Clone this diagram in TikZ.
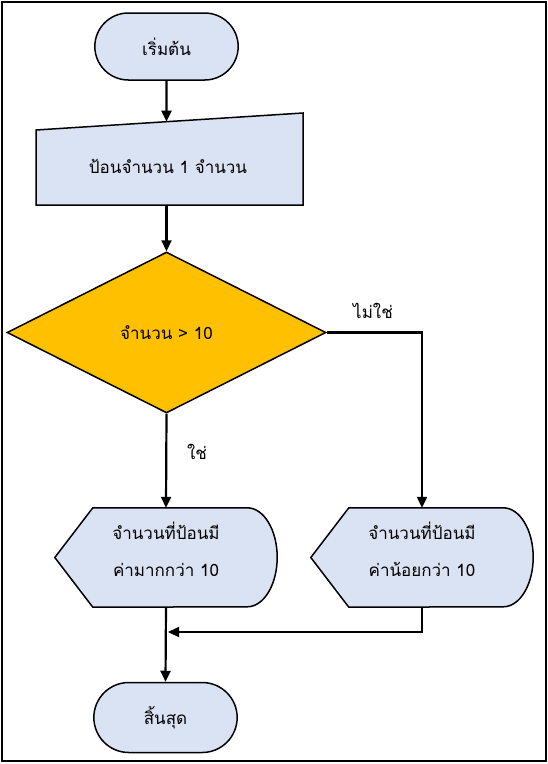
\documentclass[tikz,border=0pt]{standalone}
\usepackage{fontspec}
\setmainfont[Script=Thai]{Loma}
\usetikzlibrary{shapes.misc,shapes.geometric,arrows.meta,backgrounds}

\definecolor{boxblue}{RGB}{218,227,243}
\definecolor{decyellow}{RGB}{255,192,0}

% outline of a display box around a named node
\newcommand{\dispbox}[1]{%
  \begin{pgfonlayer}{background}
    \draw[shapeline, fill=boxblue] (#1.west) -- ([xshift=38pt]#1.north west)
      -- ([xshift=-30pt]#1.north east)
      arc[start angle=90, end angle=-90, x radius=30pt, y radius=49.5pt]
      -- ([xshift=38pt]#1.south west) -- cycle;
  \end{pgfonlayer}}

\begin{document}
\begin{tikzpicture}[x=1pt, y=-1pt, font=\fontsize{17pt}{20pt}\selectfont]
			\useasboundingbox (0,0) rectangle (547,764);
			\draw[line width=2pt] (1.5,1.5) rectangle (545.5,761);

			% Styles for the flowchart
			\tikzset{shapeline/.style = {draw, line width = 1.5pt},
				term/.style = {rounded rectangle, shapeline, fill = boxblue, minimum width = 150pt, minimum height = 67pt},
				decision/.style = {diamond, shapeline, fill = decyellow, minimum width = 319pt, minimum height = 161pt, inner sep = 0pt},
				disp/.style = {minimum width = 222pt, minimum height = 99pt, inner sep = 0pt},
				disptext/.style = {align = center, yshift = 8pt},
				flow/.style = {-{Triangle[length = 11pt, width = 10pt]}, line width = 2.2pt}}

			% Start
			\node[term] (start) at (166.5,46.5) {เริ่มต้น};

			% Manual input
			\draw[shapeline, fill = boxblue] (36,130) -- (303,113) -- (303,205) -- (36,205) -- cycle;
			\node (input) at (168,166) {ป้อนจำนวน 1 จำนวน};
			\coordinate (inTop) at (166.5,121.6);
			\coordinate (inBot) at (166.5,205);

			% Decision
			\node[decision] (check) at (166.5,332.5) {จำนวน > 10};
			\node (no) at (373,311) {ไม่ใช่};
			\node (yes) at (197,452) {ใช่};

			% Display boxes
			\node[disp, label = {[disptext]center:จำนวนที่ป้อนมี\\[17pt]ค่ามากกว่า 10}] (big) at (166,557.5) {};
			\dispbox{big}
			\node[disp, label = {[disptext]center:จำนวนที่ป้อนมี\\[17pt]ค่าน้อยกว่า 10}] (small) at (422,557.5) {};
			\dispbox{small}

			% End
			\node[term, minimum height = 70pt] (finish) at (165.5,717.5) {สิ้นสุด};
			\coordinate (join) at (168,632);

			% Connectors
			\draw[flow] (start) -- (inTop);
			\draw[flow] (inBot) -- (check);
			\draw[flow] (check.east) -| (small.north);
			\draw[flow] (check.south) -- (big.north);
			\draw[flow] (big.south) -- (finish.north);
			\draw[flow] (small.south) |- (join);

		\end{tikzpicture}
\end{document}
